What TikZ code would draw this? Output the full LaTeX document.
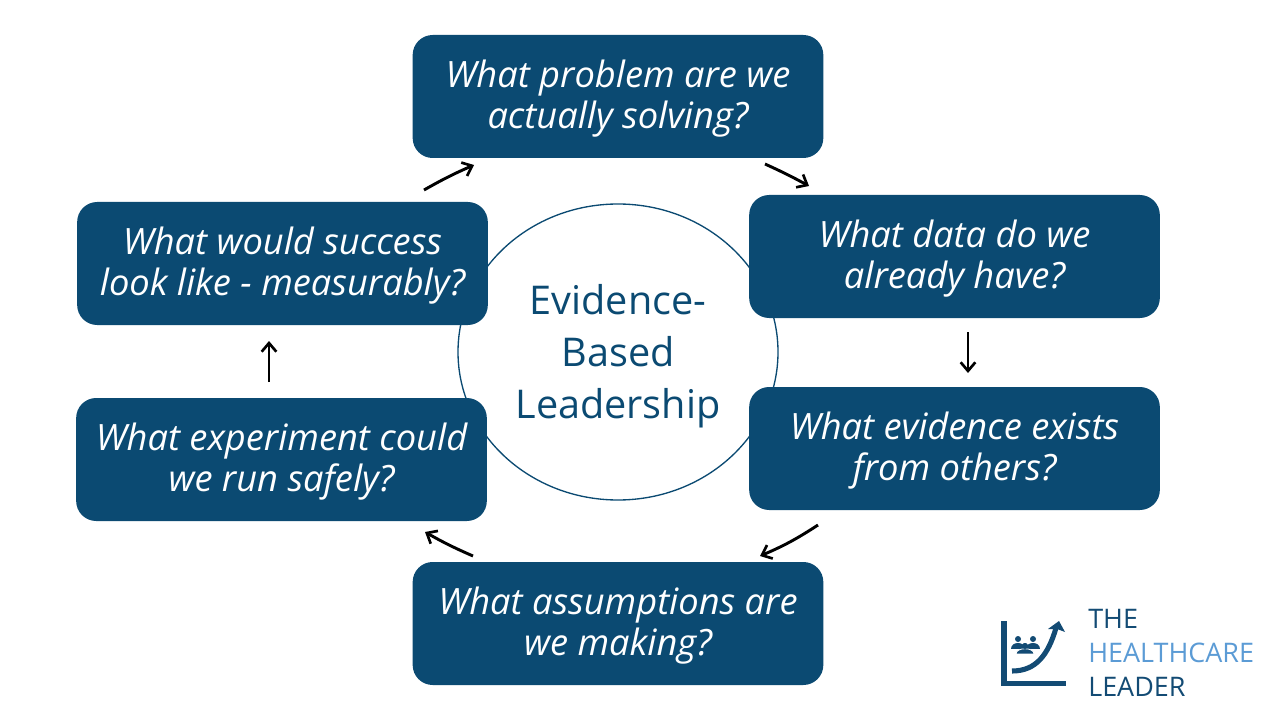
\documentclass[tikz,border=0pt]{standalone}
\usepackage{fontspec}
\setmainfont{Open Sans}
\definecolor{boxblue}{HTML}{0B4A72}
\definecolor{logoblue}{HTML}{5B9BD5}
\definecolor{logodark}{HTML}{134B74}
\newcommand{\boxstrut}{\rule{0pt}{23.5pt}}
\newcommand{\hubstrut}{\rule{0pt}{28.5pt}}
\tikzset{
  x=0.75pt,y=-0.75pt,
  qbox/.style={draw=none,fill=boxblue,rounded corners=15pt,text=white,minimum width=308pt,minimum height=92.25pt,inner sep=0pt,align=center,font=\fontsize{27.2}{30.75}\selectfont\itshape},
  hub/.style={ellipse,draw=boxblue,line width=1pt,fill=white,minimum width=240pt,minimum height=222pt,inner sep=0pt,align=center,text=boxblue,font=\fontsize{29.7}{39}\selectfont},
  flow/.style={draw=black,line width=2.2pt,-{Straight Barb[length=6.5pt,width=11pt,line width=2pt]}},
  logotext/.style={anchor=base west,inner sep=0pt,font=\fontsize{20.2}{21}\selectfont},
  logoline/.style={draw=logodark,line width=3.8pt},
  person/.style={fill=logodark,draw=none}
}
\usetikzlibrary{shapes.geometric,arrows.meta}
\begin{document}
\begin{tikzpicture}
\useasboundingbox (0,0) rectangle (1280,720);
\node[hub] (hubn) at (618,352) {\hubstrut Evidence-\\Based\\Leadership};
\node[qbox] (q1) at (618,96.5) {\boxstrut What problem are we\\actually solving?};
\node[qbox] (q2) at (954.5,256.5) {\boxstrut What data do we\\already have?};
\node[qbox] (q3) at (954.5,448.5) {\boxstrut What evidence exists\\from others?};
\node[qbox] (q4) at (618,623.5) {\boxstrut What assumptions are\\we making?};
\node[qbox] (q5) at (281.5,459.5) {\boxstrut What experiment could\\we run safely?};
\node[qbox] (q6) at (282.5,263.5) {\boxstrut What would success\\look like - measurably?};
\coordinate (a1s) at (765,164); \coordinate (a1e) at (809,186);
\coordinate (a2s) at (968,332); \coordinate (a2e) at (968,373);
\coordinate (a3s) at (818,525); \coordinate (a3e) at (760,556);
\coordinate (a4s) at (473,556); \coordinate (a4e) at (425,532);
\coordinate (a5s) at (269,382); \coordinate (a5e) at (269,341);
\coordinate (a6s) at (424,190); \coordinate (a6e) at (474,165);
\draw[flow] (a1s) to[bend left=2] (a1e);
\draw[flow] (a2s) -- (a2e);
\draw[flow] (a3s) to[bend left=5] (a3e);
\draw[flow] (a4s) to[bend left=3] (a4e);
\draw[flow] (a5s) -- (a5e);
\draw[flow] (a6s) to[bend left=3] (a6e);
% logo
\draw[logoline,line cap=butt,line join=miter] (1004,621) -- (1004,683.5) -- (1066,683.5);
\draw[draw=logodark,line width=3.8pt] (1012,671) .. controls (1036,671) and (1048,655) .. (1056,628);
\fill[logodark] (1059,621) -- (1065,632) -- (1057,629) -- (1048,629) -- cycle;
\foreach \px/\py/\pr in {1018/639/3.0,1033/639/3.0,1025/646/3.0}{
  \fill[person] (\px,\py) circle (\pr);
}
\fill[person] (1011,649) .. controls (1011,641) and (1025,641) .. (1025,649) -- cycle;
\fill[person] (1026,649) .. controls (1026,641) and (1040,641) .. (1040,649) -- cycle;
\draw[white,line width=0.6pt,fill=logodark] (1016,654) .. controls (1016,647) and (1034,647) .. (1034,654) -- cycle;
\fill[person] (1025,646) circle (3.0);
\node[logotext,text=logodark] (t1) at (1088,628) {THE};
\node[logotext,text=logoblue] (t2) at (1088,662) {HEALTHCARE};
\node[logotext,text=logodark] (t3) at (1088,696) {LEADER};
\end{tikzpicture}
\end{document}
